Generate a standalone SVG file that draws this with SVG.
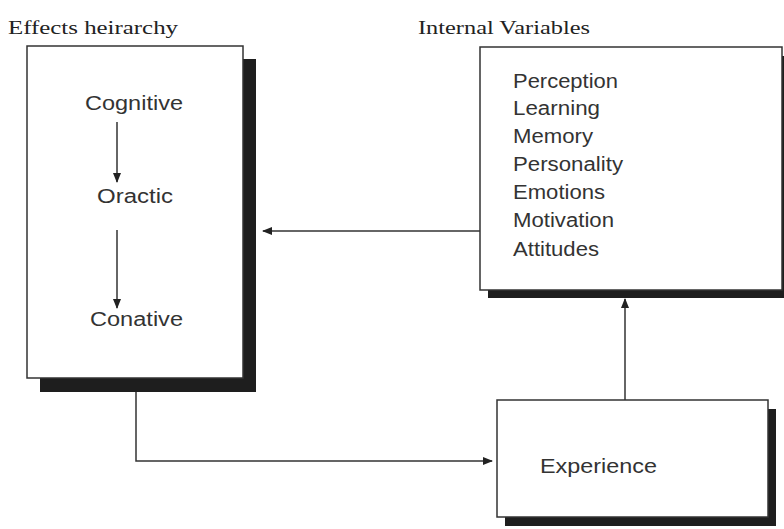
<svg xmlns="http://www.w3.org/2000/svg" width="784" height="529" viewBox="0 0 784 529">
<defs>
<style>
.box{fill:#fff;stroke:#333;stroke-width:1.5}
.shadow{fill:#1e1e1e}
.t{font-family:"Liberation Sans",Arial,sans-serif;font-size:20px;fill:#333}
.h{font-family:"Liberation Serif","Times New Roman",serif;font-size:18px;fill:#222}
.c{stroke:#333;stroke-width:1.5;fill:none}
</style>
<marker id="ah" markerWidth="10" markerHeight="8" refX="9" refY="4" orient="auto" markerUnits="userSpaceOnUse">
<path d="M0,0 L10,4 L0,8 Z" fill="#222"/>
</marker>
</defs>
<rect width="784" height="529" fill="#fff"/>
<text class="h" x="8" y="34" textLength="170" lengthAdjust="spacingAndGlyphs">Effects heirarchy</text>
<text class="h" x="418" y="34" textLength="172" lengthAdjust="spacingAndGlyphs">Internal Variables</text>
<g id="effects">
<rect class="shadow" x="40" y="59" width="216" height="333"/>
<rect class="box" x="27" y="46" width="216" height="332"/>
<text class="t" x="85" y="110" textLength="98" lengthAdjust="spacingAndGlyphs">Cognitive</text>
<text class="t" x="97" y="203" textLength="76" lengthAdjust="spacingAndGlyphs">Oractic</text>
<text class="t" x="90" y="326" textLength="93" lengthAdjust="spacingAndGlyphs">Conative</text>
<line class="c" x1="117" y1="122" x2="117" y2="182" marker-end="url(#ah)"/>
<line class="c" x1="117" y1="230" x2="117" y2="308" marker-end="url(#ah)"/>
</g>
<g id="internal">
<rect class="shadow" x="488" y="56" width="300" height="242"/>
<rect class="box" x="480" y="47" width="302" height="243"/>
<text class="t" x="513" y="88" textLength="105" lengthAdjust="spacingAndGlyphs">Perception</text>
<text class="t" x="513" y="115" textLength="87" lengthAdjust="spacingAndGlyphs">Learning</text>
<text class="t" x="513" y="143" textLength="80" lengthAdjust="spacingAndGlyphs">Memory</text>
<text class="t" x="513" y="171" textLength="110" lengthAdjust="spacingAndGlyphs">Personality</text>
<text class="t" x="513" y="199" textLength="92" lengthAdjust="spacingAndGlyphs">Emotions</text>
<text class="t" x="513" y="227" textLength="101" lengthAdjust="spacingAndGlyphs">Motivation</text>
<text class="t" x="513" y="256" textLength="86" lengthAdjust="spacingAndGlyphs">Attitudes</text>
</g>
<g id="experience">
<rect class="shadow" x="505" y="409" width="271" height="117"/>
<rect class="box" x="497" y="400" width="271" height="117"/>
<text class="t" x="540" y="473" textLength="117" lengthAdjust="spacingAndGlyphs">Experience</text>
</g>
<g id="connectors">
<line class="c" x1="480" y1="231" x2="263" y2="231" marker-end="url(#ah)"/>
<line class="c" x1="625" y1="400" x2="625" y2="299" marker-end="url(#ah)"/>
<polyline class="c" points="136,392 136,461 492,461" marker-end="url(#ah)"/>
</g>
</svg>
